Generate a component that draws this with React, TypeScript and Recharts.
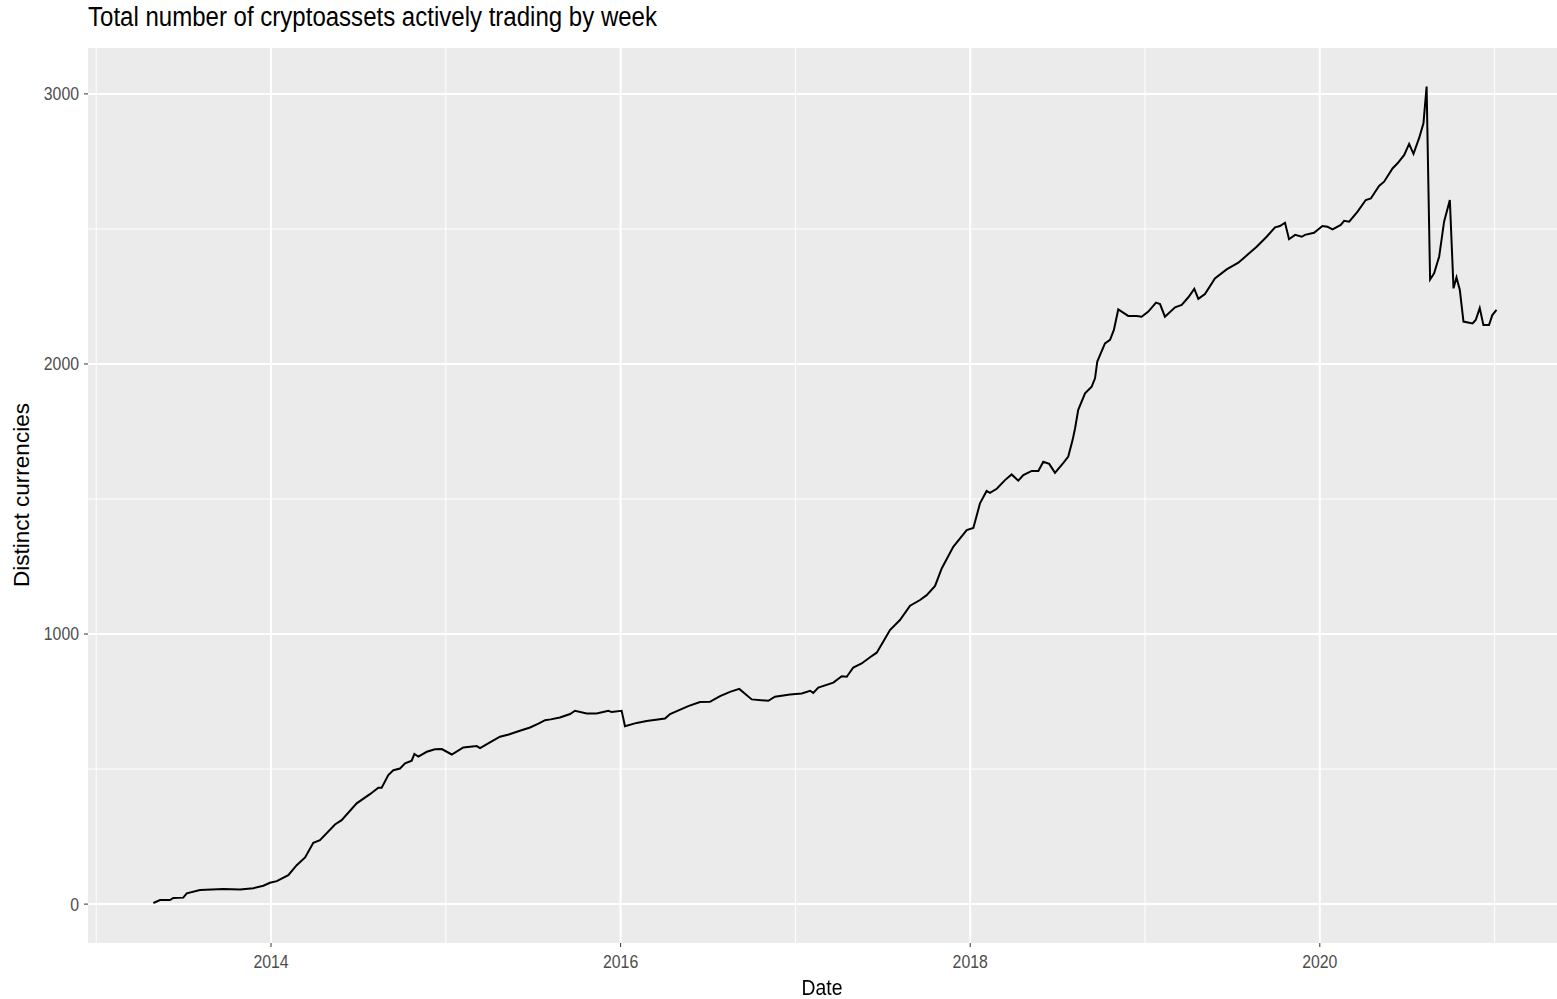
import React from 'react';
import { LineChart, Line, XAxis, YAxis, CartesianGrid } from 'recharts';

const weekYear = [
  2013.327, 2013.365, 2013.422, 2013.441, 2013.498, 2013.518, 2013.594, 2013.727, 2013.823, 2013.899,
  2013.956, 2013.994, 2014.033, 2014.099, 2014.147, 2014.195, 2014.242, 2014.28, 2014.366, 2014.404,
  2014.49, 2014.566, 2014.614, 2014.633, 2014.671, 2014.7, 2014.738, 2014.767, 2014.805, 2014.82,
  2014.843, 2014.891, 2014.938, 2014.977, 2015.034, 2015.1, 2015.177, 2015.196, 2015.25, 2015.31,
  2015.36, 2015.424, 2015.482, 2015.53, 2015.568, 2015.6, 2015.653, 2015.711, 2015.739, 2015.806,
  2015.863, 2015.93, 2015.949, 2016.006, 2016.025, 2016.092, 2016.149, 2016.254, 2016.283, 2016.387,
  2016.454, 2016.511, 2016.569, 2016.626, 2016.679, 2016.75, 2016.845, 2016.883, 2016.969, 2017.036,
  2017.084, 2017.102, 2017.131, 2017.217, 2017.265, 2017.294, 2017.331, 2017.379, 2017.427, 2017.465,
  2017.503, 2017.541, 2017.598, 2017.656, 2017.713, 2017.751, 2017.799, 2017.837, 2017.903, 2017.98,
  2018.018, 2018.056, 2018.094, 2018.113, 2018.152, 2018.199, 2018.237, 2018.275, 2018.304, 2018.352,
  2018.39, 2018.418, 2018.452, 2018.485, 2018.533, 2018.561, 2018.586, 2018.6, 2018.618, 2018.657,
  2018.695, 2018.714, 2018.727, 2018.771, 2018.8, 2018.822, 2018.847, 2018.904, 2018.953, 2018.981,
  2019.019, 2019.063, 2019.086, 2019.114, 2019.172, 2019.21, 2019.248, 2019.282, 2019.305, 2019.343,
  2019.4, 2019.467, 2019.534, 2019.562, 2019.639, 2019.696, 2019.744, 2019.772, 2019.801, 2019.824,
  2019.859, 2019.897, 2019.915, 2019.967, 2020.015, 2020.044, 2020.073, 2020.12, 2020.139, 2020.168,
  2020.216, 2020.263, 2020.292, 2020.339, 2020.368, 2020.416, 2020.445, 2020.483, 2020.511, 2020.536,
  2020.568, 2020.593, 2020.611, 2020.631, 2020.654, 2020.683, 2020.711, 2020.744, 2020.765, 2020.782,
  2020.801, 2020.822, 2020.874, 2020.892, 2020.915, 2020.936, 2020.968, 2020.987, 2021.011,
];

const distinctCurrencies = [
  4, 15, 15, 23, 24, 40, 52, 56, 54, 59,
  68, 79, 85, 107, 144, 173, 227, 237, 295, 311,
  373, 407, 431, 431, 478, 496, 502, 521, 531, 556,
  546, 564, 573, 574, 554, 580, 585, 578, 598, 620,
  628, 642, 654, 668, 681, 684, 691, 704, 716, 706,
  706, 716, 711, 716, 659, 671, 678, 687, 704, 733,
  748, 749, 770, 786, 797, 758, 753, 768, 776, 780,
  790, 782, 802, 820, 844, 842, 876, 891, 914, 931,
  972, 1015, 1052, 1105, 1126, 1144, 1178, 1243, 1323, 1385,
  1393, 1484, 1530, 1523, 1538, 1570, 1591, 1568, 1589, 1604,
  1604, 1638, 1630, 1597, 1634, 1657, 1719, 1762, 1830, 1891,
  1916, 1947, 2009, 2076, 2089, 2126, 2202, 2178, 2178, 2175,
  2194, 2227, 2222, 2175, 2210, 2219, 2247, 2278, 2241, 2259,
  2317, 2350, 2375, 2391, 2434, 2471, 2506, 2511, 2523, 2462,
  2478, 2471, 2478, 2486, 2511, 2508, 2498, 2515, 2530, 2527,
  2564, 2607, 2613, 2659, 2675, 2724, 2743, 2774, 2815, 2778,
  2836, 2891, 3027, 2313, 2336, 2398, 2527, 2607, 2280, 2321,
  2274, 2157, 2150, 2163, 2207, 2144, 2144, 2181, 2200,
];

const yearTicks = [2014, 2016, 2018, 2020];
const yearMinor = [2013, 2015, 2017, 2019, 2021];
const countTicks = [0, 1000, 2000, 3000];
const countMinor = [500, 1500, 2500];

const data = weekYear.map((y, i) => ({ year: y, count: distinctCurrencies[i] }));

const FONT = '"Liberation Sans", Arial, sans-serif';
const SQUEEZE = 0.88; // the reference text is a bit condensed

const XTick = ({ x, y, payload }: any) => (
  <text
    transform={`translate(${x},${y}) scale(${SQUEEZE},1)`}
    textAnchor="middle"
    dy="0.71em"
    fontSize={18}
    fill="#4D4D4D"
    fontFamily={FONT}
  >
    {payload.value}
  </text>
);

const YTick = ({ x, y, payload }: any) => (
  <text
    transform={`translate(${x},${y}) scale(${SQUEEZE},1)`}
    textAnchor="end"
    dy="0.355em"
    fontSize={18}
    fill="#4D4D4D"
    fontFamily={FONT}
  >
    {payload.value}
  </text>
);

export default function App() {
  return (
    <div style={{ position: 'fixed', left: 0, top: 0, width: 1557, height: 999, background: '#fff', fontFamily: FONT }}>
      <LineChart width={1557} height={999} data={data} margin={{ top: 48, right: 0, left: 0, bottom: 0 }}>
        <CartesianGrid fill="#EBEBEB" stroke="#FFFFFF" strokeWidth={1} horizontalValues={countMinor} verticalValues={yearMinor} />
        <CartesianGrid fill="none" stroke="#FFFFFF" strokeWidth={2} horizontalValues={countTicks} verticalValues={yearTicks} />
        <XAxis
          dataKey="year"
          type="number"
          domain={[2012.953, 2021.357]}
          ticks={yearTicks}
          allowDataOverflow
          height={56}
          axisLine={false}
          tickSize={4}
          tickLine={{ stroke: '#333333', strokeWidth: 1 }}
          tick={<XTick />}
          tickMargin={8}
        />
        <YAxis
          type="number"
          domain={[-144, 3170]}
          ticks={countTicks}
          allowDataOverflow
          width={88}
          axisLine={false}
          tickSize={4}
          tickLine={{ stroke: '#333333', strokeWidth: 1 }}
          tick={<YTick />}
          tickMargin={5}
        />
        <Line
          type="linear"
          dataKey="count"
          stroke="#000000"
          strokeWidth={2}
          dot={false}
          isAnimationActive={false}
        />
      </LineChart>
      <div
        style={{
          position: 'absolute', left: 88, top: 4, fontSize: 27, lineHeight: 1, color: '#000',
          whiteSpace: 'nowrap', transform: 'scaleX(0.89)', transformOrigin: 'left top',
        }}
      >
        Total number of cryptoassets actively trading by week
      </div>
      <div
        style={{
          position: 'absolute', left: 822, top: 977, fontSize: 22, lineHeight: 1, color: '#000',
          whiteSpace: 'nowrap', transform: `translateX(-50%) scaleX(${SQUEEZE})`,
        }}
      >
        Date
      </div>
      <div
        style={{
          position: 'absolute', left: 22, top: 495, fontSize: 22.5, lineHeight: 1, color: '#000',
          whiteSpace: 'nowrap', transform: 'translate(-50%, -50%) rotate(-90deg)',
        }}
      >
        Distinct currencies
      </div>
    </div>
  );
}
